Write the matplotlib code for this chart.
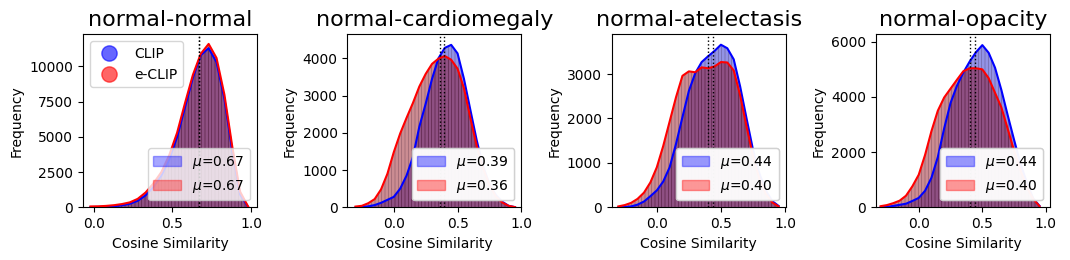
import numpy as np
import matplotlib
matplotlib.use("Agg")
import matplotlib.pyplot as plt
from matplotlib.patches import Patch
from matplotlib.lines import Line2D

# panel titles and the mean similarity of each model
titles = ["normal-normal", "normal-cardiomegaly", "normal-atelectasis", "normal-opacity"]
clip_means = [0.67, 0.39, 0.44, 0.44]
eclip_means = [0.67, 0.36, 0.40, 0.40]

bin_width = 0.05
centers_normal = np.round(np.arange(-0.02, 0.99, bin_width), 2)
centers_other = np.round(np.arange(-0.30, 0.96, bin_width), 2)

# frequencies (per bin)
clip_normal = [20, 30, 50, 80, 140, 250, 460, 850, 1450, 2250, 3400, 5000,
               7100, 9200, 10800, 11300, 10300, 7700, 4000, 900, 30]
eclip_normal = [60, 70, 100, 150, 230, 350, 600, 1050, 1700, 2500, 3700, 5300,
                7400, 9400, 10900, 11600, 10600, 8000, 4300, 1100, 60]

clip_cardio = [0, 10, 25, 60, 120, 200, 280, 500, 850, 1350, 2160, 2780, 3450,
               4000, 4280, 4360, 4130, 3450, 2620, 1800, 1100, 620, 330, 150, 40, 5]
eclip_cardio = [20, 40, 110, 220, 480, 900, 1480, 1980, 2400, 2800, 3240, 3580, 3850,
                3990, 4060, 3960, 3720, 3200, 2400, 1650, 1050, 600, 290, 130, 40, 5]

clip_atel = [0, 5, 20, 60, 130, 250, 380, 580, 900, 1430, 2030, 2620, 3020,
             3270, 3400, 3520, 3660, 3580, 3330, 2720, 2000, 1300, 760, 380, 140, 30]
eclip_atel = [20, 50, 100, 190, 330, 560, 900, 1380, 1930, 2480, 2960, 3060, 3040,
              3150, 3130, 3170, 3270, 3260, 3080, 2520, 1820, 1150, 640, 300, 110, 20]

clip_opac = [0, 10, 50, 90, 130, 230, 340, 600, 1070, 1820, 2860, 3780, 4400,
             4880, 5280, 5620, 5880, 5600, 5060, 4250, 3330, 2440, 1580, 900, 320, 50]
eclip_opac = [40, 80, 150, 240, 420, 760, 1180, 1900, 2760, 3500, 3980, 4300, 4620,
              4930, 5040, 5040, 5000, 4680, 4150, 3620, 2840, 2050, 1340, 730, 300, 40]

centers = [centers_normal, centers_other, centers_other, centers_other]
clip_freqs = [clip_normal, clip_cardio, clip_atel, clip_opac]
eclip_freqs = [eclip_normal, eclip_cardio, eclip_atel, eclip_opac]

xlims = [(-0.067, 1.037), (-0.364, 0.987), (-0.352, 1.005), (-0.336, 1.032)]
ylims = [12300, 4650, 3900, 6280]
ystep = [2500, 1000, 1000, 2000]


def main():
    plt.rcParams["hatch.linewidth"] = 0.5
    fig, axes = plt.subplots(1, 4, figsize=(10.7, 2.6), dpi=100)
    fig.subplots_adjust(left=0.0776, right=0.9813, bottom=0.2027, top=0.869, wspace=0.519)

    for i, ax in enumerate(axes):
        x = centers[i]
        # histogram-like shaded areas with thin vertical bin stripes
        ax.fill_between(x, clip_freqs[i], facecolor=(0.16, 0.16, 0.8, 0.5),
                        edgecolor=(0.1, 0, 0.1, 0.3), hatch="|||||", linewidth=0)
        ax.fill_between(x, eclip_freqs[i], facecolor=(0.55, 0.0, 0.05, 0.45),
                        edgecolor=(0.1, 0, 0.1, 0.3), hatch="|||||", linewidth=0)
        ax.plot(x, clip_freqs[i], color="blue", linewidth=1.5, zorder=3)
        ax.plot(x, eclip_freqs[i], color="red", linewidth=1.5, zorder=3)
        ax.axvline(clip_means[i], color="black", linestyle=":", linewidth=1, zorder=4)
        ax.axvline(eclip_means[i], color="black", linestyle=":", linewidth=1, zorder=4)

        ax.set_xlim(*xlims[i])
        ax.set_ylim(0, ylims[i])
        ax.set_xticks([0.0, 0.5, 1.0])
        ax.set_yticks(np.arange(0, ylims[i], ystep[i]))
        ax.set_title(titles[i], fontsize=16)
        ax.set_xlabel("Cosine Similarity")
        ax.set_ylabel("Frequency")

        handles = [Patch(facecolor="blue", alpha=0.35, edgecolor="blue"),
                   Patch(facecolor="red", alpha=0.35, edgecolor="red")]
        labels = [f"$\\mu$={clip_means[i]:.2f}", f"$\\mu$={eclip_means[i]:.2f}"]
        leg = ax.legend(handles, labels, loc="lower right", fontsize=10)
        ax.add_artist(leg)

    model_handles = [
        Line2D([], [], marker="o", linestyle="none", markersize=11,
               markerfacecolor="blue", markeredgecolor="blue", alpha=0.6),
        Line2D([], [], marker="o", linestyle="none", markersize=11,
               markerfacecolor="red", markeredgecolor="red", alpha=0.6),
    ]
    axes[0].legend(model_handles, ["CLIP", "e-CLIP"], loc="upper left", fontsize=10)

    fig.savefig("out.png")


if __name__ == "__main__":
    main()
